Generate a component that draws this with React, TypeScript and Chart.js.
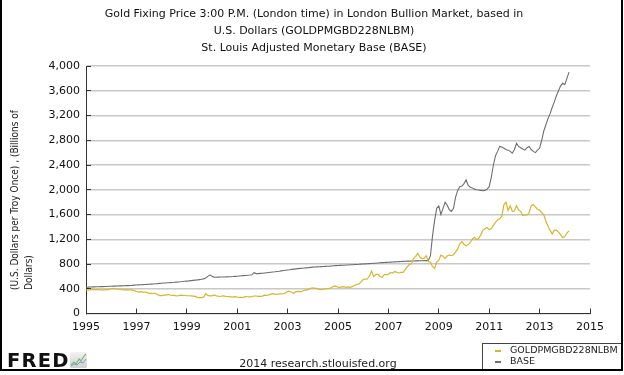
import React, { useEffect, useRef } from "react";
import { Chart, registerables } from "chart.js";

Chart.register(...registerables);

const START_YEAR = 1995;

// Monthly values, Jan 1995 .. Mar 2014
const goldPrice: number[] = [
  379, 377, 382, 391, 385, 387, 386, 383, 383, 383, 386, 387,
  400, 405, 396, 393, 392, 385, 383, 387, 383, 381, 378, 369,
  355, 347, 352, 344, 344, 341, 324, 324, 323, 325, 306, 289,
  289, 297, 296, 308, 299, 292, 293, 284, 289, 296, 294, 291,
  287, 287, 286, 282, 277, 261, 256, 257, 265, 320, 293, 284,
  285, 300, 286, 280, 275, 286, 282, 275, 274, 270, 266, 272,
  266, 262, 263, 261, 272, 271, 268, 273, 283, 283, 276, 276,
  282, 296, 294, 302, 314, 322, 314, 310, 319, 317, 319, 333,
  357, 359, 340, 328, 355, 356, 351, 360, 379, 379, 389, 407,
  414, 405, 406, 390, 384, 392, 398, 400, 405, 420, 439, 442,
  424, 423, 434, 429, 422, 431, 424, 438, 456, 470, 476, 510,
  549, 555, 557, 610, 686, 596, 633, 632, 598, 585, 627, 629,
  631, 665, 655, 679, 667, 655, 665, 665, 712, 754, 795, 803,
  889, 922, 970, 909, 888, 890, 935, 839, 829, 760, 730, 830,
  858, 943, 924, 890, 928, 946, 934, 949, 996, 1043, 1127, 1160,
  1118, 1095, 1113, 1148, 1205, 1232, 1193, 1215, 1271, 1343, 1370, 1391,
  1356, 1372, 1424, 1474, 1512, 1529, 1572, 1756, 1800, 1666, 1739, 1652,
  1656, 1743, 1674, 1650, 1585, 1596, 1594, 1626, 1744, 1760, 1722, 1685,
  1671, 1628, 1593, 1485, 1414, 1343, 1286, 1347, 1349, 1316, 1275, 1225,
  1244, 1300, 1336,
];

const monetaryBase: number[] = [
  425, 426, 428, 430, 431, 432, 433, 434, 435, 436, 437, 440,
  441, 442, 443, 445, 446, 447, 448, 450, 451, 453, 455, 458,
  460, 462, 464, 466, 468, 470, 473, 475, 477, 480, 483, 487,
  490, 492, 494, 497, 499, 502, 504, 507, 509, 512, 516, 521,
  524, 527, 531, 535, 539, 543, 548, 553, 560, 575, 600, 625,
  600, 588, 586, 588, 589, 590, 591, 592, 593, 595, 597, 600,
  603, 606, 609, 612, 615, 618, 621, 625, 660, 645, 645, 648,
  651, 655, 659, 663, 667, 671, 675, 680, 684, 689, 694, 699,
  704, 708, 713, 717, 721, 725, 729, 732, 735, 738, 741, 745,
  749, 751, 753, 755, 757, 759, 761, 763, 765, 768, 771, 773,
  775, 777, 779, 781, 783, 785, 787, 789, 791, 793, 795, 798,
  800, 802, 804, 806, 808, 811, 813, 816, 819, 822, 825, 827,
  829, 831, 833, 835, 837, 839, 841, 843, 845, 846, 847, 848,
  849, 850, 851, 852, 853, 854, 855, 856, 930, 1250, 1500, 1700,
  1740, 1600, 1700, 1800, 1750, 1680, 1650, 1700, 1880, 1990, 2050, 2060,
  2100, 2160, 2070, 2040, 2030, 2010, 2000, 1995, 1990, 1985, 1990, 2010,
  2050, 2200, 2400, 2550, 2620, 2700, 2690, 2670, 2650, 2640, 2620, 2590,
  2650, 2750, 2700, 2680, 2660, 2640, 2680, 2700, 2650, 2620, 2600, 2640,
  2670, 2800, 2950, 3050, 3150, 3230, 3330, 3420, 3520, 3600, 3680, 3720,
  3700, 3800, 3900,
];

const xTickValues: number[] = [1995, 1997, 1999, 2001, 2003, 2005, 2007, 2009, 2011, 2013, 2015];
const yTickValues: number[] = [0, 400, 800, 1200, 1600, 2000, 2400, 2800, 3200, 3600, 4000];

const titleLines: string[] = [
  "Gold Fixing Price 3:00 P.M. (London time) in London Bullion Market, based in",
  "U.S. Dollars (GOLDPMGBD228NLBM)",
  "St. Louis Adjusted Monetary Base (BASE)",
];
const yTitleLines: string[] = ["(U.S. Dollars per Troy Once) , (Billions of", "Dollars)"];
const seriesNames: string[] = ["GOLDPMGBD228NLBM", "BASE"];
const seriesColors: string[] = ["#d8b52c", "#6e6e6e"];
const footerText = "2014 research.stlouisfed.org";

const toPoints = (vals: number[]) => vals.map((v, i) => ({ x: START_YEAR + i / 12, y: v }));

const decorPlugin = {
  id: "decor",
  afterDraw(chart: any) {
    const { ctx, chartArea, scales } = chart;
    ctx.save();
    ctx.strokeStyle = "#333";
    ctx.lineWidth = 1;
    scales.y.ticks.forEach((t: any) => {
      const y = Math.round(scales.y.getPixelForValue(t.value) - 0.5) + 0.5;
      ctx.beginPath();
      ctx.moveTo(chartArea.left, y);
      ctx.lineTo(chartArea.left + 5, y);
      ctx.stroke();
    });
    scales.x.ticks.forEach((t: any) => {
      const x = Math.round(scales.x.getPixelForValue(t.value) - 0.5) + 0.5;
      ctx.beginPath();
      ctx.moveTo(x, chartArea.bottom);
      ctx.lineTo(x, chartArea.bottom - 5);
      ctx.stroke();
    });
    // y-axis title, left aligned from the bottom
    ctx.fillStyle = "#222";
    ctx.font = "10px 'DejaVu Sans Condensed', 'DejaVu Sans'";
    ctx.textAlign = "left";
    ctx.textBaseline = "middle";
    ctx.translate(15.5, 290);
    ctx.rotate(-Math.PI / 2);
    yTitleLines.forEach((line, i) => ctx.fillText(line, 0, i * 13.5));
    ctx.restore();
  },
};

export default function App() {
  const canvasRef = useRef<HTMLCanvasElement | null>(null);

  useEffect(() => {
    document.body.style.margin = "0";
    const canvas = canvasRef.current;
    if (!canvas) return;
    Chart.defaults.font.family = "'DejaVu Sans', Verdana, sans-serif";
    const chart = new Chart(canvas, {
      type: "line",
      data: {
        datasets: [
          {
            label: seriesNames[0],
            data: toPoints(goldPrice),
            borderColor: seriesColors[0],
            borderWidth: 1.2,
            pointRadius: 0,
            tension: 0,
          },
          {
            label: seriesNames[1],
            data: toPoints(monetaryBase),
            borderColor: seriesColors[1],
            borderWidth: 1.1,
            pointRadius: 0,
            tension: 0,
          },
        ],
      },
      options: {
        responsive: false,
        animation: false,
        parsing: true,
        layout: { padding: { left: 0, top: 66, right: 34, bottom: 31.5 } },
        plugins: {
          legend: { display: false },
          tooltip: { enabled: false },
          title: { display: false },
        },
        scales: {
          x: {
            type: "linear",
            min: 1995,
            max: 2015,
            afterBuildTicks: (scale: any) => {
              scale.ticks = xTickValues.map((v) => ({ value: v }));
            },
            afterFit: (scale: any) => {
              scale.height = 30;
            },
            grid: { display: false, drawTicks: false },
            border: { display: true, color: "#333", width: 1 },
            ticks: {
              autoSkip: false,
              maxRotation: 0,
              padding: 7,
              color: "#111",
              font: { size: 11 },
              callback: (v: any) => String(v),
            },
          },
          y: {
            type: "linear",
            min: 0,
            max: 4000,
            afterBuildTicks: (scale: any) => {
              scale.ticks = yTickValues.map((v) => ({ value: v }));
            },
            afterFit: (scale: any) => {
              scale.width = 86;
            },
            grid: { display: true, drawTicks: false, color: "#c8c8c8", lineWidth: 1.5 },
            border: { display: true, color: "#333", width: 1 },
            ticks: {
              padding: 6,
              color: "#111",
              font: { size: 11 },
              callback: (v: any) => Number(v).toLocaleString("en-US"),
            },
          },
        },
      },
      plugins: [decorPlugin],
    });
    return () => chart.destroy();
  }, []);

  const abs = (s: React.CSSProperties): React.CSSProperties => ({ position: "absolute", ...s });

  return (
    <div style={{ position: "relative", width: 624, height: 375, background: "#fff", overflow: "hidden" }}>
      <canvas ref={canvasRef} width={624} height={375} style={{ position: "absolute", left: 0, top: 0, display: "block" }} />
      <div
        style={abs({
          left: 0,
          top: 4.5,
          width: 628,
          textAlign: "center",
          fontFamily: "'DejaVu Sans', sans-serif",
          fontSize: 11,
          lineHeight: "17px",
          color: "#111",
        })}
      >
        {titleLines.map((l, i) => (
          <div key={i}>{l}</div>
        ))}
      </div>
      <div
        style={abs({
          left: 7,
          top: 351,
          fontFamily: "'DejaVu Sans', sans-serif",
          fontWeight: 900,
          fontSize: 19.5,
          lineHeight: "20px",
          letterSpacing: 1.2,
          color: "#111",
        })}
      >
        FRED
      </div>
      <svg style={abs({ left: 70, top: 352 })} width={17} height={16} viewBox="0 0 17 16">
        <defs>
          <linearGradient id="fg" x1="0" y1="0" x2="0" y2="1">
            <stop offset="0" stopColor="#f2f2f2" />
            <stop offset="1" stopColor="#d0d0d0" />
          </linearGradient>
        </defs>
        <rect x={0} y={0} width={17} height={16} rx={1.5} fill="url(#fg)" />
        <polyline points="1,13 4,10 6,12 9,7 11,9 14,4 16,2" fill="none" stroke="#7fb86a" strokeWidth={1.2} />
        <polyline points="1,14 4,12 7,13 10,10 13,11 16,7" fill="none" stroke="#6f9fcf" strokeWidth={1} />
      </svg>
      <div
        style={abs({
          left: 218,
          top: 356,
          width: 200,
          textAlign: "center",
          fontFamily: "'DejaVu Sans', sans-serif",
          fontSize: 11,
          lineHeight: "16px",
          color: "#222",
        })}
      >
        {footerText}
      </div>
      <div
        style={abs({
          left: 482,
          top: 343,
          width: 141,
          height: 28,
          boxSizing: "border-box",
          border: "1px solid #444",
        })}
      />
      {seriesNames.map((n, i) => (
        <React.Fragment key={n}>
          <div style={abs({ left: 495, top: 349.5 + i * 11.3, width: 6, height: 2, background: seriesColors[i] })} />
          <div
            style={abs({
              left: 510,
              top: 344 + i * 11.3,
              fontFamily: "'DejaVu Sans', sans-serif",
              fontSize: 9.5,
              lineHeight: "12px",
              color: "#222",
            })}
          >
            {n}
          </div>
        </React.Fragment>
      ))}
      <div
        style={abs({
          left: 0,
          top: 0,
          width: 623,
          height: 371,
          boxSizing: "border-box",
          borderLeft: "2px solid #000",
          borderRight: "2px solid #000",
          borderBottom: "2px solid #000",
        })}
      />
    </div>
  );
}
